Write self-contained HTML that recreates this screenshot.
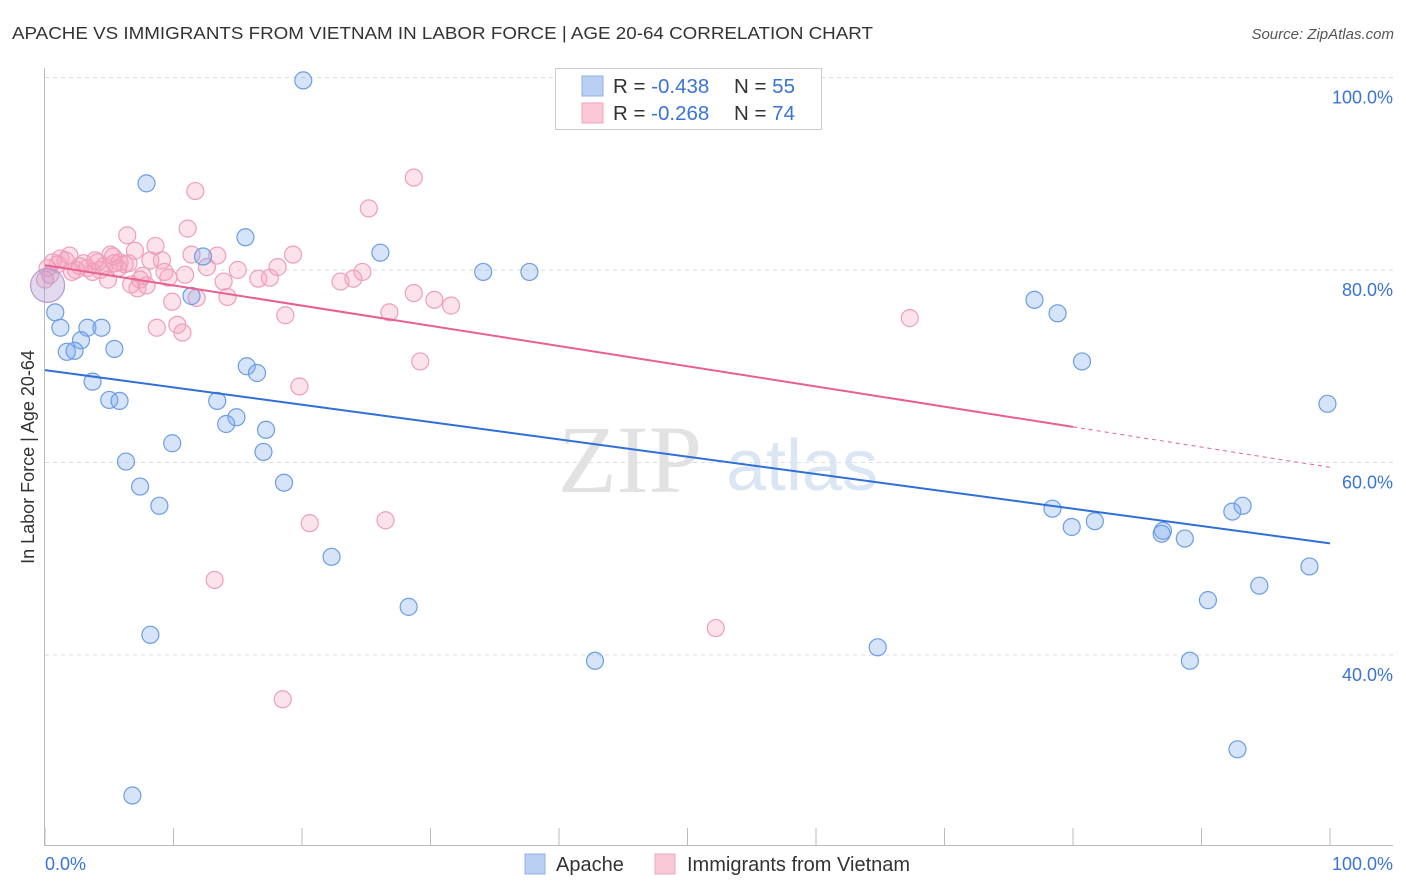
<!DOCTYPE html>
<html><head><meta charset="utf-8">
<style>
body{margin:0;background:#fff;font-family:"Liberation Sans",sans-serif;}
svg{display:block}
</style></head>
<body>
<svg width="1406" height="892" viewBox="0 0 1406 892" id="chart">
<text x="12" y="39" font-size="17.5" fill="#333" textLength="861" lengthAdjust="spacingAndGlyphs">APACHE VS IMMIGRANTS FROM VIETNAM IN LABOR FORCE | AGE 20-64 CORRELATION CHART</text>
<text x="1394" y="39" font-size="15" fill="#555" font-style="italic" text-anchor="end">Source: ZipAtlas.com</text>
<text x="630" y="492" font-size="96" fill="#e2e2e2" font-family="Liberation Serif,serif" text-anchor="middle">ZIP</text>
<text x="802" y="490" font-size="72" fill="#dbe6f5" text-anchor="middle">atlas</text>
<g id="grid"></g>
<g id="marks"></g>
<text transform="translate(34,457) rotate(-90)" font-size="18" fill="#333" text-anchor="middle">In Labor Force | Age 20-64</text>
<g>
<rect x="555.5" y="68.5" width="266" height="61" fill="#fff" stroke="#ccc"/>
<rect x="582" y="76" width="21" height="20" fill="#b9d0f3" stroke="#8fb2e8"/>
<rect x="582" y="103" width="21" height="20" fill="#fbc8d7" stroke="#f1a5bd"/>
<text x="613" y="93" font-size="20.5" fill="#333">R = <tspan fill="#3a74d4">-0.438</tspan><tspan x="734">N = </tspan><tspan fill="#3a74d4">55</tspan></text>
<text x="613" y="120" font-size="20.5" fill="#333">R = <tspan fill="#3a74d4">-0.268</tspan><tspan x="734">N = </tspan><tspan fill="#3a74d4">74</tspan></text>
</g>
<g>
<rect x="525" y="854" width="20" height="20" fill="#b9d0f3" stroke="#8fb2e8"/>
<text x="556" y="871" font-size="20" fill="#333">Apache</text>
<rect x="655" y="854" width="20" height="20" fill="#fbc8d7" stroke="#f1a5bd"/>
<text x="687" y="871" font-size="20" fill="#333">Immigrants from Vietnam</text>
</g>
</svg>
<script>
const apacheX=[20.1,7.9,15.6,26.1,34.1,37.7,0.8,1.2,3.3,4.4,2.8,1.7,2.3,5.4,3.7,5.0,5.8,15.7,16.5,13.4,14.9,14.1,17.2,9.9,17.0,6.3,7.4,8.9,18.6,22.3,28.3,8.2,6.8,42.8,64.8,77.0,78.8,80.7,99.8,78.4,79.9,81.7,87.0,86.9,88.7,92.4,93.2,98.4,90.5,94.5,89.1,92.8,11.4,12.3];
const apacheY=[99.7,89.0,83.4,81.8,79.8,79.8,75.6,74.0,74.0,74.0,72.7,71.5,71.6,71.8,68.4,66.5,66.4,70.0,69.3,66.4,64.7,64.0,63.4,62.0,61.1,60.1,57.5,55.5,57.9,50.2,45.0,42.1,25.4,39.4,40.8,76.9,75.5,70.5,66.1,55.2,53.3,53.9,52.9,52.6,52.1,54.9,55.5,49.2,45.7,47.2,39.4,30.2,77.3,81.4];
const vietX=[0.6,0.2,1.0,1.6,1.9,2.4,3.0,3.3,3.7,3.9,4.3,4.6,4.9,5.1,5.4,5.8,6.2,6.5,6.7,7.2,7.4,7.9,8.2,9.1,9.6,9.3,6.4,7.0,8.6,11.1,11.7,11.4,12.6,13.4,10.9,13.9,14.2,11.8,9.9,8.7,10.3,10.7,15.0,16.6,17.5,18.1,19.3,18.7,19.8,20.6,23.0,24.0,24.7,25.2,26.5,26.8,28.7,28.7,29.2,30.3,31.6,13.2,18.5,52.2,67.3,1.2,2.1,4.1,5.7,7.6,2.7,5.3,0.0,0.4];
const vietY=[80.8,80.2,80.6,81.0,81.5,80.0,80.7,80.2,79.8,81.0,80.0,80.4,79.0,81.6,80.7,80.8,80.6,80.7,78.5,78.1,79.0,78.4,81.0,81.0,79.2,79.8,83.6,82.0,82.5,84.3,88.2,81.6,80.3,81.5,79.5,78.8,77.2,77.1,76.7,74.0,74.3,73.5,80.0,79.1,79.2,80.3,81.6,75.3,67.9,53.7,78.8,79.1,79.8,86.4,54.0,75.6,89.6,77.6,70.5,76.9,76.3,47.8,35.4,42.8,75.0,81.2,79.8,80.8,80.2,79.4,80.4,81.4,79.0,79.5];
const apacheTrend=[69.6,51.6];
const vietTrend=[80.5,59.5];
const vietSolidEnd=80;
const yTicks=[100,80,60,40];
const yTickLabels=["100.0%","80.0%","60.0%","40.0%"];
const xTicks=[0,10,20,30,40,50,60,70,80,90,100];

const NS="http://www.w3.org/2000/svg";
const xS=v=>45+v*12.85;
const yS=v=>270-(v-80)*9.625;
function mk(tag,attrs,parent){const e=document.createElementNS(NS,tag);for(const k in attrs)e.setAttribute(k,attrs[k]);parent.appendChild(e);return e;}
const grid=document.getElementById('grid'),marks=document.getElementById('marks');
yTicks.forEach((t,i)=>{
  const l=mk('line',{x1:45,x2:1393,y1:yS(t),y2:yS(t),stroke:'#ddd','stroke-dasharray':'4,4'},grid);
  
  
  const tx=mk('text',{x:1393,y:yS(t)+26,'font-size':18,fill:'#3a74d4','text-anchor':'end'},grid);
  tx.textContent=yTickLabels[i];
  
  
});
let a=mk('line',{x1:44.5,x2:44.5,y1:68,y2:845,stroke:'#bbb'},grid);


a=mk('line',{x1:44,x2:1393,y1:845.5,y2:845.5,stroke:'#bbb'},grid);


xTicks.forEach(t=>{
  const l=mk('line',{x1:xS(t),x2:xS(t),y1:828,y2:845,stroke:'#bbb'},grid);
  
  
});
let t0=mk('text',{x:45,y:870,'font-size':18,fill:'#3a74d4'},grid);t0.textContent='0.0%';


t0=mk('text',{x:1393,y:870,'font-size':18,fill:'#3a74d4','text-anchor':'end'},grid);t0.textContent='100.0%';



vietX.forEach((x,i)=>{
  const c=mk('circle',{cx:xS(x),cy:yS(vietY[i]),r:8.5,fill:'rgba(244,160,188,0.3)',stroke:'#ee9fb9','stroke-width':1.2},marks);
  
  
});
apacheX.forEach((x,i)=>{
  const c=mk('circle',{cx:xS(x),cy:yS(apacheY[i]),r:8.5,fill:'rgba(120,165,235,0.3)',stroke:'#6c9de3','stroke-width':1.2},marks);
  
  
});
const big=mk('circle',{cx:xS(0.2),cy:yS(78.4),r:17,fill:'rgba(170,150,210,0.35)',stroke:'#b59ad0','stroke-width':1.2},marks);


let ln=mk('line',{x1:xS(0),y1:yS(apacheTrend[0]),x2:xS(100),y2:yS(apacheTrend[1]),stroke:'#2f6fd8','stroke-width':2},marks);


const vAt=x=>vietTrend[0]+(vietTrend[1]-vietTrend[0])*x/100;
ln=mk('line',{x1:xS(0),y1:yS(vAt(0)),x2:xS(vietSolidEnd),y2:yS(vAt(vietSolidEnd)),stroke:'#e8608e','stroke-width':2},marks);


ln=mk('line',{x1:xS(vietSolidEnd),y1:yS(vAt(vietSolidEnd)),x2:xS(100),y2:yS(vAt(100)),stroke:'#e8608e','stroke-width':1,'stroke-dasharray':'4,4'},marks);


</script>
</body></html>
